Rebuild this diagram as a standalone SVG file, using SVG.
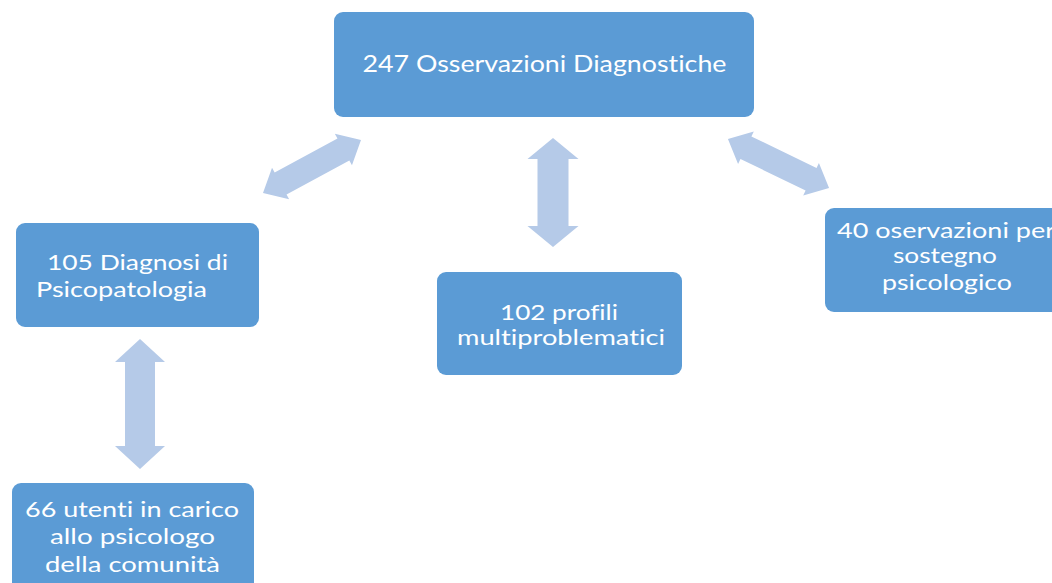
<svg xmlns="http://www.w3.org/2000/svg" width="1052" height="583" viewBox="0 0 1052 583">
<style>
.box{fill:#5B9BD5;}
.arr{fill:#B5CAE8;}
.t{font-family:Lato,"Open Sans","Liberation Sans",sans-serif;fill:#FFFFFF;font-size:21px;font-variant-ligatures:none;font-feature-settings:"liga" 0,"clig" 0;}
.tt{font-size:24px;}
</style>
<rect width="1052" height="583" fill="#FFFFFF"/>
<g id="connectors">
<path class="arr" transform="translate(312,166.5) rotate(-28.4)" d="M -55.7 0 L -35.7 -18 L -35.7 -12.5 L 35.7 -12.5 L 35.7 -18 L 55.7 0 L 35.7 18 L 35.7 12.5 L -35.7 12.5 L -35.7 18 Z"/>
<path class="arr" transform="translate(553,192.5) rotate(90)" d="M -54.5 0 L -33.5 -25.5 L -33.5 -15.5 L 33.5 -15.5 L 33.5 -25.5 L 54.5 0 L 33.5 25.5 L 33.5 15.5 L -33.5 15.5 L -33.5 25.5 Z"/>
<path class="arr" transform="translate(778.5,163.5) rotate(25.9)" d="M -56.2 0 L -36.2 -18 L -36.2 -12.5 L 36.2 -12.5 L 36.2 -18 L 56.2 0 L 36.2 18 L 36.2 12.5 L -36.2 12.5 L -36.2 18 Z"/>
<path class="arr" transform="translate(140,404) rotate(90)" d="M -65 0 L -42 -25 L -42 -15 L 42 -15 L 42 -25 L 65 0 L 42 25 L 42 15 L -42 15 L -42 25 Z"/>
</g>
<g id="node-top">
<rect class="box" x="334" y="12" width="420" height="105" rx="9"/>
<text class="t tt" x="544.5" y="72" text-anchor="middle" textLength="364" lengthAdjust="spacingAndGlyphs">247 Osservazioni Diagnostiche</text>
</g>
<g id="node-psicopatologia">
<rect class="box" x="16" y="223" width="243" height="104" rx="9"/>
<text class="t" x="47" y="270" textLength="181" lengthAdjust="spacingAndGlyphs">105 Diagnosi di</text>
<text class="t" x="36" y="297" textLength="171" lengthAdjust="spacingAndGlyphs">Psicopatologia</text>
</g>
<g id="node-utenti">
<rect class="box" x="12" y="483" width="242" height="115" rx="9"/>
<text class="t" x="132" y="517" text-anchor="middle" textLength="214" lengthAdjust="spacingAndGlyphs">66 utenti in carico</text>
<text class="t" x="132.5" y="544" text-anchor="middle" textLength="165" lengthAdjust="spacingAndGlyphs">allo psicologo</text>
<text class="t" x="132.5" y="572" text-anchor="middle" textLength="175" lengthAdjust="spacingAndGlyphs">della comunità</text>
</g>
<g id="node-profili">
<rect class="box" x="437" y="272" width="245" height="103" rx="9"/>
<text class="t" x="559" y="320" text-anchor="middle" textLength="118" lengthAdjust="spacingAndGlyphs">102 profili</text>
<text class="t" x="561" y="345" text-anchor="middle" textLength="208" lengthAdjust="spacingAndGlyphs">multiproblematici</text>
</g>
<g id="node-sostegno">
<rect class="box" x="825" y="208" width="245" height="104" rx="9"/>
<text class="t" x="946" y="238" text-anchor="middle" textLength="218" lengthAdjust="spacingAndGlyphs">40 oservazioni per</text>
<text class="t" x="945" y="263" text-anchor="middle" textLength="104" lengthAdjust="spacingAndGlyphs">sostegno</text>
<text class="t" x="947" y="290" text-anchor="middle" textLength="130" lengthAdjust="spacingAndGlyphs">psicologico</text>
</g>
</svg>
